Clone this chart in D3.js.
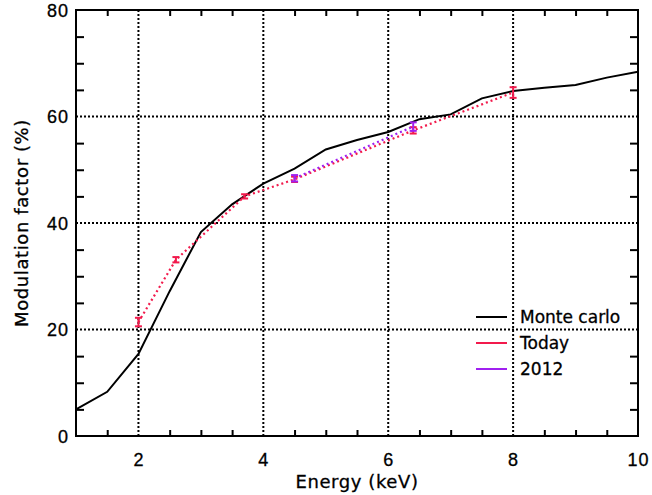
<!DOCTYPE html>
<html lang="en">
<head>
    <meta charset="UTF-8">
    <title>Modulation factor vs energy</title>
    <script src="https://d3js.org/d3.v7.min.js"></script>
    <style>
        body { margin: 0; background: #fff; }
        svg { display: block; font-family: "DejaVu Sans", Arial, sans-serif; }
        .tick-label { font-size: 18px; letter-spacing: 1px; fill: #000; stroke: #000; stroke-width: 0.3px; }
        .axis-title { font-size: 18px; letter-spacing: 0.6px; fill: #000; stroke: #000; stroke-width: 0.3px; }
        .legend-text { font-size: 17px; fill: #000; stroke: #000; stroke-width: 0.3px; }
        .grid { stroke: #000; stroke-width: 2; stroke-dasharray: 2,2; fill: none; }
    </style>
</head>
<body>
    <svg id="chart" width="652" height="495"></svg>
    <script>
        // monte carlo simulation curve
        const mcEnergy = [1, 1.5, 2, 2.5, 3, 3.5, 4, 4.5, 5, 5.5, 6, 6.5, 7, 7.5, 8, 8.5, 9, 9.5, 10];
        const mcFactor = [5, 8.3, 15.4, 27.2, 38.3, 43.5, 47.4, 50.2, 53.8, 55.6, 57.1, 59.5, 60.4, 63.4, 64.8, 65.4, 65.9, 67.3, 68.4];

        // today measurements
        const todayEnergy = [2, 2.6, 3.7, 4.5, 6.4, 8];
        const todayFactor = [21.4, 33.1, 45.0, 48.2, 57.4, 64.5];
        const todayErr = [0.8, 0.5, 0.4, 0.5, 0.6, 1.0];

        // 2012 measurements
        const oldEnergy = [4.5, 6.4];
        const oldFactor = [48.4, 58.1];
        const oldErr = [0.6, 0.8];

        const xTicks = [2, 4, 6, 8, 10];
        const yTicks = [0, 20, 40, 60, 80];

        const margin = { top: 10, right: 14, bottom: 59, left: 76 };
        const width = 652, height = 495;
        const svg = d3.select("#chart");

        const x = d3.scaleLinear().domain([1, 10]).range([margin.left, width - margin.right]);
        const y = d3.scaleLinear().domain([0, 80]).range([height - margin.bottom, margin.top]);

        const redColor = "#f21a4c";
        const purpleColor = "#a020f0";

        // grid lines
        svg.selectAll(".vgrid").data([2, 4, 6, 8]).join("line")
            .attr("class", "grid")
            .attr("x1", d => x(d)).attr("x2", d => x(d))
            .attr("y1", y(0)).attr("y2", y(80));
        svg.selectAll(".hgrid").data([20, 40, 60]).join("line")
            .attr("class", "grid")
            .attr("x1", x(1)).attr("x2", x(10))
            .attr("y1", d => y(d)).attr("y2", d => y(d));

        // minor ticks on all four sides
        const xMinor = d3.range(1.5, 10, 0.5).filter(v => v % 2 !== 0);
        const yMinor = d3.range(5, 80, 5).filter(v => v % 20 !== 0);

        const styleAxis = g => {
            g.select(".domain").remove();
            g.selectAll(".tick line").attr("stroke", "#000").attr("stroke-width", 2);
        };

        svg.append("g").attr("transform", `translate(0,${y(0)})`)
            .call(d3.axisTop(x).tickValues(xMinor).tickSize(6).tickFormat(""))
            .call(styleAxis);
        svg.append("g").attr("transform", `translate(0,${y(80)})`)
            .call(d3.axisBottom(x).tickValues(xMinor).tickSize(6).tickFormat(""))
            .call(styleAxis);
        svg.append("g").attr("transform", `translate(${x(1)},0)`)
            .call(d3.axisRight(y).tickValues(yMinor).tickSize(8).tickFormat(""))
            .call(styleAxis);
        svg.append("g").attr("transform", `translate(${x(10)},0)`)
            .call(d3.axisLeft(y).tickValues(yMinor).tickSize(8).tickFormat(""))
            .call(styleAxis);

        // frame
        svg.append("rect")
            .attr("x", x(1)).attr("y", y(80))
            .attr("width", x(10) - x(1)).attr("height", y(0) - y(80))
            .attr("fill", "none").attr("stroke", "#000").attr("stroke-width", 2);

        // tick labels
        const xLab = svg.append("g").attr("transform", `translate(0,${y(0)})`)
            .call(d3.axisBottom(x).tickValues(xTicks).tickSize(0).tickPadding(30).tickFormat(d3.format("d")));
        xLab.select(".domain").remove();
        xLab.selectAll("text").attr("class", "tick-label").attr("font-family", null).attr("font-size", null).attr("dy", "0");

        const yLab = svg.append("g").attr("transform", `translate(${x(1)},0)`)
            .call(d3.axisLeft(y).tickValues(yTicks).tickSize(0).tickPadding(7).tickFormat(d3.format("d")));
        yLab.select(".domain").remove();
        yLab.selectAll("text").attr("class", "tick-label").attr("font-family", null).attr("font-size", null).attr("dy", "0.36em");

        // axis titles
        svg.append("text").attr("class", "axis-title")
            .attr("x", (x(1) + x(10)) / 2).attr("y", 488)
            .attr("text-anchor", "middle").text("Energy (keV)");
        svg.append("text").attr("class", "axis-title")
            .attr("transform", `translate(28,${(y(0) + y(80)) / 2}) rotate(-90)`)
            .attr("text-anchor", "middle").text("Modulation factor (%)");

        // monte carlo line
        const line = d3.line().x(d => x(d[0])).y(d => y(d[1]));
        svg.append("path")
            .datum(mcEnergy.map((e, i) => [e, mcFactor[i]]))
            .attr("d", line).attr("fill", "none")
            .attr("stroke", "#000").attr("stroke-width", 2);

        const drawSeries = (energy, factor, err, color) => {
            svg.append("path")
                .datum(energy.map((e, i) => [e, factor[i]]))
                .attr("d", line).attr("fill", "none")
                .attr("stroke", color).attr("stroke-width", 2.2)
                .attr("stroke-dasharray", "2,3");
            const bars = svg.append("g").attr("stroke", color).attr("stroke-width", 2);
            energy.forEach((e, i) => {
                const top = y(factor[i] + err[i]), bot = y(factor[i] - err[i]);
                bars.append("line").attr("x1", x(e)).attr("x2", x(e)).attr("y1", top).attr("y2", bot);
                bars.append("line").attr("x1", x(e) - 3.5).attr("x2", x(e) + 3.5).attr("y1", top).attr("y2", top);
                bars.append("line").attr("x1", x(e) - 3.5).attr("x2", x(e) + 3.5).attr("y1", bot).attr("y2", bot);
            });
        };
        drawSeries(todayEnergy, todayFactor, todayErr, redColor);
        drawSeries(oldEnergy, oldFactor, oldErr, purpleColor);

        // legend
        const legendItems = [
            { label: "Monte carlo", color: "#000" },
            { label: "Today", color: redColor },
            { label: "2012", color: purpleColor }
        ];
        const legend = svg.append("g");
        legendItems.forEach((item, i) => {
            const ly = 317 + i * 26;
            legend.append("line")
                .attr("x1", 476).attr("x2", 507).attr("y1", ly).attr("y2", ly)
                .attr("stroke", item.color).attr("stroke-width", 2);
            legend.append("text").attr("class", "legend-text")
                .attr("x", 520).attr("y", ly + 6).text(item.label);
        });
    </script>
</body>
</html>
